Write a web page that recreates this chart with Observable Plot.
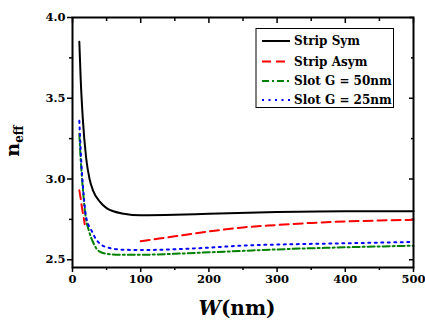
<!DOCTYPE html>
<html>
<head>
<meta charset="utf-8">
<script src="https://cdn.jsdelivr.net/npm/d3@7"></script>
<script src="https://cdn.jsdelivr.net/npm/@observablehq/plot@0.6"></script>
<style>
  html, body { margin: 0; padding: 0; background: #fff; }
  #chart { width: 425px; height: 326px; }
  #chart svg text { font-family: 'DejaVu Serif', serif !important; font-weight: bold; }
</style>
</head>
<body>
<div id="chart"></div>
<script>
// ---- data ----
const seriesNames = ["Strip Sym", "Strip Asym", "Slot G = 50nm", "Slot G = 25nm"];
const seriesColors = ["#000000", "#ff0000", "#008000", "#0000ff"];
const seriesDash = [null, "9,5", "7,3,2,3", "2,4.5"];

const wSym  = [10, 12, 15, 20, 25, 30, 40, 50, 60, 75, 100, 150, 200, 300, 400, 500];
const nSym  = [3.85, 3.62, 3.38, 3.13, 3.00, 2.93, 2.86, 2.82, 2.80, 2.785, 2.775, 2.778, 2.785, 2.795, 2.80, 2.80];

const wAsym = [10, 12, 14, 16, 18, null, 100, 150, 200, 250, 300, 350, 400, 450, 500];
const nAsym = [2.93, 2.88, 2.82, 2.77, 2.72, null, 2.615, 2.645, 2.675, 2.70, 2.715, 2.728, 2.737, 2.743, 2.747];

const wG50  = [10, 12, 14, 16, 18, 20, 24, 30, 35, 40, 50, 70, 100, 150, 200, 250, 300, 400, 500];
const nG50  = [3.28, 3.12, 3.00, 2.90, 2.81, 2.75, 2.68, 2.61, 2.57, 2.55, 2.537, 2.531, 2.531, 2.537, 2.546, 2.555, 2.564, 2.577, 2.587];

const wG25  = [10, 12, 14, 16, 19, 23, 28, 34, 40, 50, 70, 100, 150, 200, 250, 300, 400, 500];
const nG25  = [3.36, 3.18, 3.03, 2.92, 2.79, 2.72, 2.68, 2.63, 2.60, 2.578, 2.563, 2.560, 2.565, 2.575, 2.588, 2.594, 2.602, 2.61];

const xTicks = [0, 100, 200, 300, 400, 500];
const xMinor = [50, 150, 250, 350, 450];
const yTicks = [2.5, 3.0, 3.5, 4.0];
const yMinor = [2.75, 3.25, 3.75];

const xLabelMain = "W";
const xLabelUnit = "(nm)";
const yLabelMain = "n";
const yLabelSub = "eff";

// ---- build tables ----
function table(ws, ns, name) {
  return ws.map((w, i) => ({W: w, n: ns[i], series: name}));
}
const allW = [wSym, wAsym, wG50, wG25];
const allN = [nSym, nAsym, nG50, nG25];

const FONT = "'DejaVu Serif', serif";

const lineMarks = seriesNames.map((name, i) =>
  Plot.line(table(allW[i], allN[i], name), {
    x: "W", y: "n",
    stroke: seriesColors[i],
    strokeWidth: 2,
    strokeDasharray: seriesDash[i] ?? undefined,
    curve: "monotone-x"
  })
);

const chart = Plot.plot({
  width: 425,
  height: 326,
  marginLeft: 72,
  marginRight: 12,
  marginTop: 17,
  marginBottom: 59,
  style: {fontFamily: FONT, fontSize: "11.5px", fontWeight: "bold", background: "white", color: "black"},
  x: {domain: [0, 500], label: null},
  y: {domain: [2.452, 4.0], label: null},
  marks: [
    Plot.axisX({ticks: xTicks, tickSize: 5, tickPadding: 2, tickFormat: d => String(d), strokeWidth: 1.5}),
    Plot.axisX({ticks: xMinor, tickSize: 3, text: null, strokeWidth: 1.5}),
    Plot.axisY({ticks: yTicks, tickSize: 5, tickPadding: 2, tickFormat: d3.format(".1f"), strokeWidth: 1.5}),
    Plot.axisY({ticks: yMinor, tickSize: 3, text: null, strokeWidth: 1.5}),
    Plot.axisX({anchor: "top", ticks: xTicks, tickSize: 5, dy: 5, text: null, strokeWidth: 1.5}),
    Plot.axisX({anchor: "top", ticks: xMinor, tickSize: 3, dy: 3, text: null, strokeWidth: 1.5}),
    Plot.axisY({anchor: "right", ticks: yTicks, tickSize: 5, dx: -5, text: null, strokeWidth: 1.5}),
    Plot.axisY({anchor: "right", ticks: yMinor, tickSize: 3, dx: -3, text: null, strokeWidth: 1.5}),
    ...lineMarks,
    Plot.frame({stroke: "black", strokeWidth: 2})
  ]
});

document.getElementById("chart").appendChild(chart);

// ---- axis labels and legend (text) ----
const svg = d3.select(chart);

const xl = svg.append("text")
  .attr("x", 237).attr("y", 315)
  .attr("text-anchor", "middle")
  .attr("font-family", FONT)
  .attr("font-size", 20)
  .attr("fill", "black");
xl.append("tspan").attr("font-style", "italic").attr("font-weight", "bold").text(xLabelMain);
xl.append("tspan").attr("font-weight", "bold").text(xLabelUnit);

const yl = svg.append("text")
  .attr("transform", "translate(19,141) rotate(-90)")
  .attr("text-anchor", "middle")
  .attr("font-family", FONT)
  .attr("font-weight", "bold")
  .attr("font-size", 19)
  .attr("fill", "black");
yl.append("tspan").text(yLabelMain);
yl.append("tspan").attr("font-size", 12).attr("dy", 4).text(yLabelSub);

// legend
const lg = svg.append("g").attr("text-anchor", "start");
lg.append("rect")
  .attr("x", 256).attr("y", 28.5).attr("width", 137.5).attr("height", 79)
  .attr("fill", "white").attr("stroke", "black").attr("stroke-width", 1);
const rowY = [41, 61.5, 81, 100];
seriesNames.forEach((name, i) => {
  lg.append("line")
    .attr("x1", 262).attr("x2", 290)
    .attr("y1", rowY[i]).attr("y2", rowY[i])
    .attr("stroke", seriesColors[i]).attr("stroke-width", 2)
    .attr("stroke-dasharray", seriesDash[i]);
  lg.append("text")
    .attr("x", 294).attr("y", rowY[i])
    .attr("dy", "0.35em")
    .attr("text-anchor", "start")
    .attr("font-family", FONT).attr("font-weight", "bold").attr("font-size", 12)
    .attr("fill", "black")
    .text(name);
});
</script>
</body>
</html>
